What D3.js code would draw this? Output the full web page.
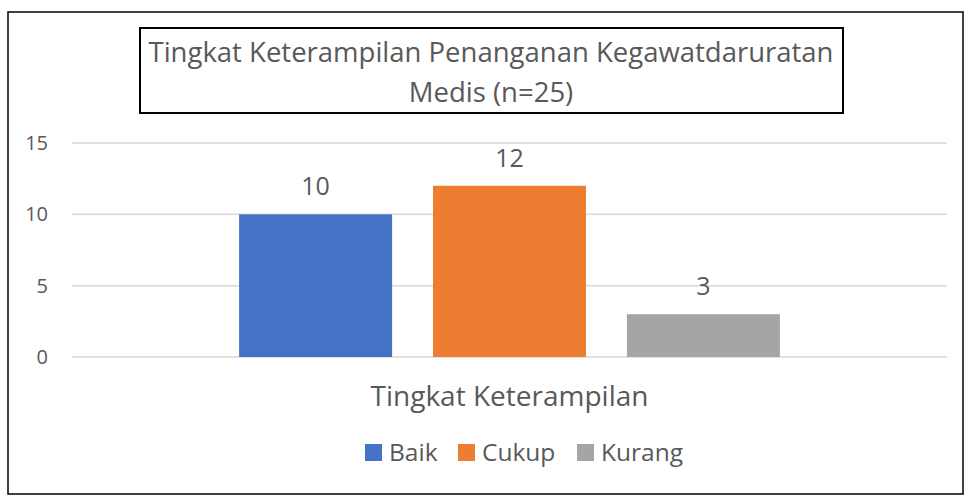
<!DOCTYPE html>
<html><head><meta charset="utf-8">
<script src="https://cdn.jsdelivr.net/npm/d3@7"></script>
<style>body{margin:0;background:#fff}svg{display:block}text{font-family:"Open Sans",sans-serif;fill:#595959}</style>
</head><body>
<script>
const category = "Tingkat Keterampilan";
const seriesNames = ["Baik", "Cukup", "Kurang"];
const seriesValues = [10, 12, 3];
const seriesColors = ["#4472C4", "#ED7D31", "#A5A5A5"];
const yTicks = [0, 5, 10, 15];
const titleLines = ["Tingkat Keterampilan Penanganan Kegawatdaruratan", "Medis (n=25)"];

const W = 965, H = 496;
const svg = d3.select("body").append("svg").attr("width", W).attr("height", H);

svg.append("rect").attr("x", 8).attr("y", 12).attr("width", 955).attr("height", 482)
  .attr("fill", "none").attr("stroke", "#000").attr("stroke-width", 1.5);

const plot = {left: 72, right: 947, top: 143, bottom: 357};
const y = d3.scaleLinear().domain([0, 15]).range([plot.bottom, plot.top]);
const xCat = d3.scaleBand().domain([category]).range([plot.left, plot.right]).paddingInner(0).paddingOuter(0.309);
const xSer = d3.scaleBand().domain(seriesNames).range([0, xCat.bandwidth()]).paddingInner(0.211).paddingOuter(0);

// gridlines
svg.append("g").selectAll("line").data(yTicks).join("line")
  .attr("x1", plot.left).attr("x2", plot.right)
  .attr("y1", d => y(d)).attr("y2", d => y(d))
  .attr("stroke", "#d9d9d9").attr("stroke-width", 1.5);

// y axis labels
const yAxis = d3.axisLeft(y).tickValues(yTicks).tickSize(0).tickPadding(0);
const ga = svg.append("g").attr("transform", `translate(48,0)`).call(yAxis);
ga.select(".domain").remove();
ga.selectAll("text").attr("font-size", 20).attr("fill", "#595959").style("font-family", '"Open Sans",sans-serif');

// bars
const g = svg.append("g").attr("transform", `translate(${xCat(category)},0)`);
g.selectAll("rect").data(seriesNames).join("rect")
  .attr("x", d => xSer(d)).attr("width", xSer.bandwidth())
  .attr("y", (d, i) => y(seriesValues[i])).attr("height", (d, i) => plot.bottom - y(seriesValues[i]))
  .attr("fill", (d, i) => seriesColors[i]);
g.selectAll("text.val").data(seriesNames).join("text").attr("class", "val")
  .attr("x", d => xSer(d) + xSer.bandwidth() / 2)
  .attr("y", (d, i) => y(seriesValues[i]) - 19)
  .attr("text-anchor", "middle").attr("font-size", 25).text((d, i) => seriesValues[i]);

// category label
svg.append("text").attr("x", xCat(category) + xCat.bandwidth() / 2).attr("y", 406)
  .attr("text-anchor", "middle").attr("font-size", 28).text(category);

// title box
svg.append("rect").attr("x", 140).attr("y", 28).attr("width", 703).attr("height", 85)
  .attr("fill", "#fff").attr("stroke", "#000").attr("stroke-width", 2);
svg.selectAll("text.title").data(titleLines).join("text").attr("class", "title")
  .attr("x", 491).attr("y", (d, i) => 62 + i * 40)
  .attr("text-anchor", "middle").attr("font-size", 27.5).text(d => d);

// legend
const legendX = [365, 458, 577];
const lg = svg.append("g").selectAll("g").data(seriesNames).join("g")
  .attr("transform", (d, i) => `translate(${legendX[i]},444)`);
lg.append("rect").attr("width", 17).attr("height", 17).attr("fill", (d, i) => seriesColors[i]);
lg.append("text").attr("x", 24).attr("y", 17).attr("font-size", 24.5).text(d => d);
</script>
</body></html>
